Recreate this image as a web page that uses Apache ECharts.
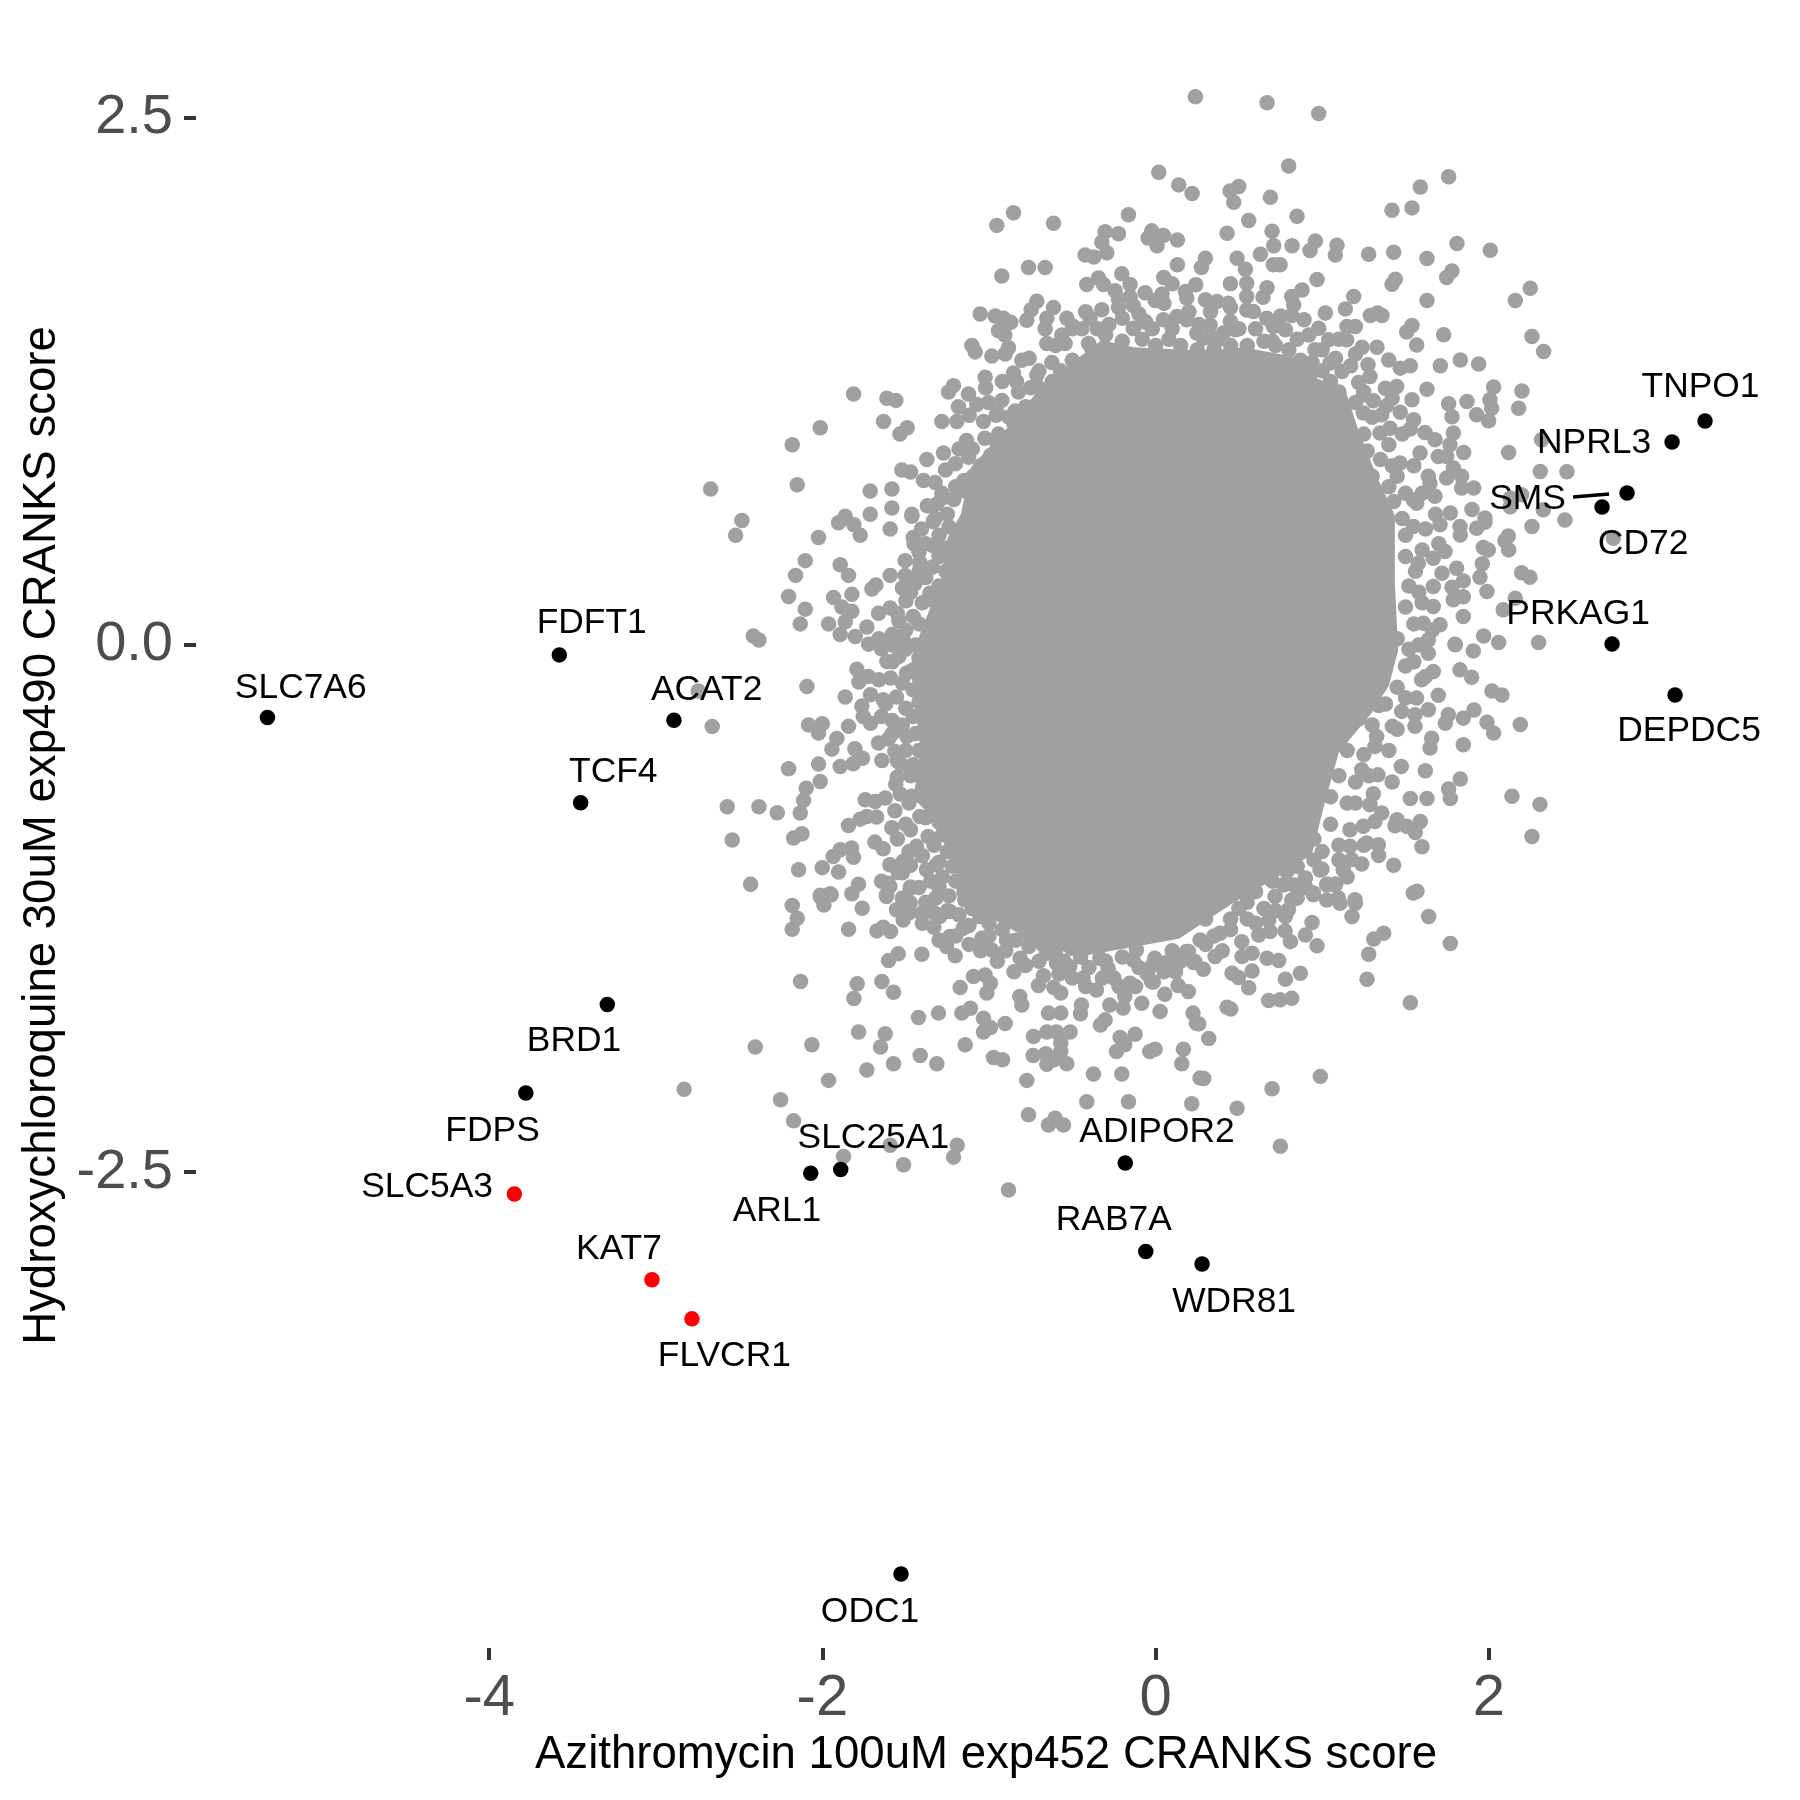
<!DOCTYPE html>
<html><head><meta charset="utf-8">
<script src="https://cdn.jsdelivr.net/npm/echarts@6/dist/echarts.min.js"></script>
<style>html,body{margin:0;padding:0;background:#fff}#c{width:1800px;height:1800px}</style></head>
<body><div id="c"></div>
<script>
const xTicks = [-4, -2, 0, 2];
const yTicks = [-2.5, 0, 2.5];
const xTitle = 'Azithromycin 100uM exp452 CRANKS score';
const yTitle = 'Hydroxychloroquine 30uM exp490 CRANKS score';

const geneNames = ['TNPO1','NPRL3','SMS','CD72','PRKAG1','DEPDC5','FDFT1','ACAT2','TCF4','SLC7A6','BRD1','FDPS','SLC25A1','ARL1','ADIPOR2','RAB7A','WDR81','ODC1','SLC5A3','KAT7','FLVCR1'];
const geneX = [3.298,3.1,2.83,2.68,2.74,3.118,-3.579,-2.891,-3.451,-5.331,-3.291,-3.78,-1.89,-2.07,-0.182,-0.059,0.279,-1.528,-3.849,-3.023,-2.783];
const geneY = [1.062,0.963,0.721,0.654,0.005,-0.237,-0.047,-0.357,-0.748,-0.344,-1.705,-2.125,-2.488,-2.505,-2.457,-2.877,-2.936,-4.406,-2.604,-3.011,-3.196];
const redGenes = ['SLC5A3','KAT7','FLVCR1'];
const labelOffsets = {TNPO1:[-4.5,-33.5],NPRL3:[-78,1.2],SMS:[-99.5,6.2],CD72:[41,37.5],PRKAG1:[-34,-29.8],DEPDC5:[14,36.5],FDFT1:[32.4,-31.5],ACAT2:[32.7,-30.5],TCF4:[32.6,-30.9],SLC7A6:[33.3,-29.5],BRD1:[-33.3,37],FDPS:[-33.3,38],SLC5A3:[-87.3,-6.5],KAT7:[-33,-30.5],FLVCR1:[32.4,37],SLC25A1:[32.6,-31.2],ARL1:[-33.7,38.2],ADIPOR2:[31.7,-30.5],RAB7A:[-32,-31.2],WDR81:[32,38],ODC1:[-31,38]};
const smsSegment = [[2.506,0.702],[2.722,0.716]];

// outline of the solid, fully overplotted core of the cloud
const coreOutline = [[-0.315,1.415],[-0.655,1.21],[-0.875,1.0],[-1.075,0.83],[-1.135,0.61],[-1.215,0.498],[-1.255,0.293],[-1.375,0.056],[-1.435,-0.102],[-1.375,-0.497],[-1.415,-0.718],[-1.295,-0.813],[-1.135,-1.13],[-1.035,-1.241],[-0.675,-1.399],[-0.435,-1.446],[0.125,-1.367],[0.427,-1.209],[0.767,-1.051],[0.907,-0.974],[0.987,-0.721],[1.067,-0.497],[1.267,-0.307],[1.367,-0.181],[1.42,-0.023],[1.4,0.293],[1.4,0.609],[1.3,0.78],[1.187,1.0],[1.107,1.194],[0.947,1.24],[0.847,1.336],[0.527,1.383],[0.267,1.368],[-0.133,1.383]];

const greyUpperLeft = [[-0.853,2.05],[-0.953,1.99],[-0.613,2.0],[-0.163,2.04],[-0.303,1.96],[-0.223,1.95],[-0.323,1.91],[-0.293,1.86],[-0.423,1.85],[-0.371,1.84],[-0.045,1.93],[-0.923,1.75],[-0.763,1.79],[-0.663,1.79],[-0.203,1.76],[-0.413,1.71],[-0.343,1.74],[-0.313,1.71],[-0.153,1.71],[-0.063,1.67],[-0.243,1.68],[-0.153,1.65],[-0.223,1.64],[-0.135,1.61],[-0.223,1.6],[-0.199,1.55],[-0.323,1.59],[-0.393,1.55],[-0.713,1.63],[-0.747,1.59],[-0.773,1.54],[-0.613,1.6],[-0.653,1.55],[-0.663,1.5],[-0.533,1.55],[-1.053,1.57],[-0.963,1.56],[-0.913,1.55],[-0.869,1.53],[-0.943,1.49],[-0.905,1.47],[-1.103,1.42],[-1.083,1.39],[-0.983,1.37],[-0.903,1.38],[-0.883,1.41],[-0.803,1.35],[-0.759,1.36],[-0.653,1.43],[-0.563,1.47],[-0.543,1.43],[-0.493,1.51],[-0.443,1.5],[-0.403,1.43],[-0.133,1.5],[-0.063,1.53],[-1.023,1.27],[-0.853,1.29],[-0.713,1.28],[-0.623,1.34],[-0.835,1.25],[-0.823,1.2],[-1.213,1.23],[-1.243,1.2],[-1.123,1.19],[-1.813,1.19],[-1.613,1.17],[-1.559,1.16],[-1.183,1.13],[-1.073,1.14],[-1.003,1.15],[-0.923,1.16],[-1.633,1.06],[-1.491,1.03],[-1.535,1.0],[-1.283,1.06],[-1.193,1.06],[-1.033,1.06],[-0.957,1.09],[-0.843,1.11],[-1.119,1.09],[-0.943,1.0],[-2.013,1.03],[-2.181,0.95],[-1.273,0.91],[-1.373,0.88],[-1.135,0.97],[-1.025,0.98],[-1.123,0.89],[-1.201,0.86],[-1.261,0.83],[-1.523,0.83],[-1.471,0.82],[-1.393,0.78],[-1.323,0.77],[-1.095,0.8],[-2.151,0.76],[-2.671,0.74],[-1.713,0.73],[-1.583,0.74],[-1.143,0.73],[-1.283,0.72],[-1.211,0.69],[-1.311,0.67],[-1.583,0.65],[-1.713,0.62],[-1.463,0.62],[-1.323,0.6]];

const greyLeft = [[-2.483,0.59],[-2.521,0.52],[-1.863,0.61],[-1.903,0.58],[-1.811,0.57],[-1.773,0.52],[-2.023,0.51],[-1.593,0.55],[-1.463,0.61],[-1.455,0.51],[-1.335,0.585],[-1.405,0.55],[-1.335,0.47],[-1.265,0.46],[-2.103,0.4],[-2.161,0.33],[-1.893,0.38],[-1.843,0.33],[-1.593,0.33],[-1.503,0.4],[-1.503,0.33],[-1.415,0.39],[-1.339,0.37],[-1.679,0.285],[-1.703,0.265],[-2.203,0.23],[-1.933,0.225],[-1.823,0.24],[-2.103,0.17],[-1.883,0.18],[-1.823,0.16],[-1.663,0.15],[-1.593,0.175],[-1.499,0.21],[-1.445,0.29],[-1.355,0.245],[-1.455,0.135],[-2.133,0.1],[-1.963,0.1],[-1.863,0.11],[-1.541,0.115],[-1.733,0.085],[-1.893,0.05],[-1.803,0.04],[-1.581,0.05],[-1.661,0.03],[-1.723,0.004],[-1.513,0.02],[-1.645,-0.018],[-2.415,0.043],[-2.381,0.024],[-1.613,-0.078],[-1.541,-0.055],[-1.495,-0.134],[-1.793,-0.115],[-1.725,-0.15],[-1.781,-0.176],[-1.661,-0.165],[-1.591,-0.157],[-2.093,-0.197],[-1.863,-0.247],[-1.455,-0.213],[-1.711,-0.236],[-1.555,-0.247],[-1.635,-0.26],[-1.763,-0.29],[-1.755,-0.339],[-1.711,-0.371],[-1.645,-0.339],[-1.581,-0.358],[-1.455,-0.339],[-2.661,-0.387],[-2.083,-0.379],[-2.001,-0.374],[-2.023,-0.418],[-1.843,-0.386],[-1.913,-0.443],[-1.943,-0.494],[-1.663,-0.465],[-1.603,-0.446],[-1.493,-0.434],[-1.565,-0.505],[-1.805,-0.492],[-1.759,-0.537],[-1.815,-0.563],[-1.893,-0.576],[-2.023,-0.565],[-1.643,-0.548],[-2.203,-0.587],[-2.013,-0.647],[-1.525,-0.568],[-1.455,-0.568],[-1.551,-0.627],[-1.395,-0.6],[-2.097,-0.679],[-2.113,-0.737],[-1.533,-0.707],[-1.465,-0.718],[-1.743,-0.734],[-1.683,-0.742],[-1.623,-0.726],[-2.571,-0.767],[-2.381,-0.767],[-2.271,-0.796],[-2.133,-0.797],[-1.565,-0.786],[-1.675,-0.816],[-1.733,-0.813],[-1.773,-0.826],[-1.843,-0.856],[-1.415,-0.813],[-1.583,-0.867],[-1.471,-0.876],[-2.123,-0.895],[-2.173,-0.916],[-2.541,-0.925],[-1.685,-0.935],[-1.635,-0.966],[-1.435,-0.955],[-1.365,-0.908],[-1.825,-0.963],[-1.893,-0.971],[-1.935,-1.003],[-1.813,-1.007],[-2.143,-1.066],[-2.001,-1.056],[-1.903,-1.077],[-1.595,-1.042],[-1.515,-1.026],[-1.471,-1.045],[-1.545,-1.079],[-2.431,-1.135],[-1.783,-1.135],[-1.645,-1.121],[-1.375,-1.066],[-1.315,-1.042],[-1.471,-1.148],[-1.595,-1.145],[-1.953,-1.18],[-2.013,-1.187],[-1.823,-1.18],[-1.615,-1.184],[-2.745,-0.218],[-2.83,-2.107]];

const greyLower = [[-1.991,-1.233],[-2.011,-1.196],[-1.947,-1.185],[-2.181,-1.236],[-2.151,-1.296],[-2.181,-1.348],[-1.761,-1.249],[-1.843,-1.348],[-1.605,-1.13],[-1.615,-1.193],[-1.555,-1.256],[-1.473,-1.154],[-1.473,-1.222],[-1.405,-1.272],[-1.673,-1.356],[-1.591,-1.359],[-1.635,-1.339],[-1.515,-1.304],[-1.331,-1.339],[-1.295,-1.288],[-1.235,-1.264],[-1.145,-1.209],[-1.155,-1.343],[-1.055,-1.288],[-1.235,-1.383],[-1.255,-1.43],[-1.203,-1.474],[-1.043,-1.391],[-0.985,-1.446],[-0.813,-1.486],[-0.895,-1.399],[-0.775,-1.367],[-0.675,-1.422],[-1.545,-1.465],[-1.603,-1.497],[-1.403,-1.467],[-2.131,-1.596],[-1.791,-1.607],[-1.811,-1.677],[-1.643,-1.596],[-1.573,-1.647],[-1.173,-1.625],[-1.093,-1.572],[-1.023,-1.565],[-0.991,-1.604],[-1.013,-1.651],[-1.423,-1.767],[-1.303,-1.746],[-1.163,-1.746],[-1.111,-1.723],[-1.033,-1.77],[-0.991,-1.814],[-1.033,-1.836],[-0.903,-1.795],[-0.815,-1.667],[-0.803,-1.707],[-0.673,-1.569],[-0.703,-1.615],[-0.611,-1.625],[-0.569,-1.651],[-0.643,-1.746],[-0.569,-1.746],[-0.445,-1.707],[-0.451,-1.749],[-0.303,-1.778],[-0.331,-1.802],[-0.733,-1.857],[-0.653,-1.836],[-0.595,-1.836],[-0.513,-1.836],[-0.569,-1.888],[-0.569,-1.928],[-0.735,-1.947],[-0.659,-1.939],[-0.653,-1.988],[-0.533,-1.986],[-0.611,-1.967],[-1.783,-1.836],[-1.623,-1.844],[-1.651,-1.907],[-2.063,-1.896],[-2.403,-1.907],[-1.143,-1.896],[-1.413,-1.947],[-1.313,-1.986],[-1.573,-1.986],[-1.733,-2.016],[-1.963,-2.065],[-0.973,-1.956],[-0.919,-1.967],[-0.773,-2.065],[-0.373,-2.035],[-0.203,-2.035],[-0.213,-1.862],[-0.185,-1.896],[-0.235,-1.928],[-0.123,-1.846],[-0.035,-1.928],[-0.003,-1.917],[0.167,-1.917],[0.157,-1.986],[0.267,-2.054],[-2.251,-2.157],[-0.413,-2.166],[-0.163,-2.166],[0.217,-2.176],[-0.763,-2.228],[-0.643,-2.277],[-0.603,-2.244],[-0.553,-2.277],[-2.173,-2.257],[-1.873,-2.426],[-1.593,-2.373],[-1.513,-2.465],[-1.191,-2.373],[-1.213,-2.429],[-0.883,-2.585],[-0.285,-1.536],[-0.195,-1.722],[-0.083,-1.699],[0.027,-1.738],[0.055,-1.656],[-0.025,-1.596],[-0.155,-1.604],[-0.275,-1.707],[-0.355,-1.636],[-0.435,-1.58],[-0.185,-1.667],[0.135,-1.615],[0.197,-1.644],[0.225,-1.746],[0.245,-1.794],[-0.515,-1.525],[-0.595,-1.509],[-0.655,-1.462],[-0.335,-1.486],[-0.135,-1.493],[-0.005,-1.486],[0.065,-1.506],[0.185,-1.454],[0.235,-1.501],[-0.115,-1.446],[-0.505,-1.438],
[1.639,-1.288],[1.769,-1.416],[1.199,-1.225],[1.179,-1.288],[1.107,-1.225],[1.027,-1.209],[1.077,-1.138],[1.027,-1.138],[1.127,-1.067],[0.987,-1.067],[0.947,-1.185],[0.897,-1.106],[0.827,-1.138],[0.767,-1.138],[0.787,-1.075],[0.717,-1.193],[0.817,-1.209],[0.797,-1.256],[0.779,-1.288],[0.679,-1.304],[0.939,-1.316],[0.777,-1.356],[0.809,-1.407],[0.899,-1.376],[0.969,-1.427],[0.687,-1.359],[0.619,-1.376],[1.369,-1.367],[1.309,-1.395],[1.279,-1.467],[1.269,-1.585],[1.529,-1.697],[0.869,-1.557],[0.779,-1.585],[0.579,-1.462],[0.519,-1.478],[0.669,-1.486],[0.739,-1.497],[0.579,-1.546],[0.459,-1.557],[0.497,-1.577],[0.559,-1.626],[0.679,-1.686],[0.747,-1.683],[0.817,-1.675],[0.429,-1.718],[0.451,-1.727],[0.259,-1.797],[0.319,-1.866],[0.289,-2.056],[0.699,-2.105],[0.989,-2.046],[0.489,-2.197],[0.749,-2.377],[0.387,-1.367],[0.267,-1.399],[0.197,-1.454],[0.227,-1.506],[0.287,-1.538],[0.357,-1.478],[0.517,-1.407],[0.067,-1.509],[-0.013,-1.599]];

const greyUpperRight = [[0.239,2.6],[0.669,2.572],[0.979,2.521],[0.799,2.272],[0.019,2.242],[0.139,2.182],[0.219,2.141],[0.499,2.174],[0.447,2.153],[0.469,2.1],[0.689,2.123],[0.559,2.013],[0.849,2.033],[0.429,1.953],[0.699,1.962],[-0.023,1.964],[0.047,1.942],[0.009,1.893],[0.131,1.921],[0.709,1.893],[0.819,1.893],[0.959,1.916],[0.927,1.871],[1.089,1.896],[1.079,1.849],[0.629,1.853],[1.279,1.853],[1.429,1.863],[1.629,1.833],[1.809,1.904],[2.009,1.872],[1.419,2.062],[1.539,2.073],[1.589,2.172],[1.759,2.221],[0.299,1.834],[0.275,1.79],[0.131,1.803],[0.489,1.834],[0.539,1.782],[0.707,1.803],[0.747,1.803],[1.779,1.774],[1.747,1.743],[0.969,1.733],[1.439,1.735],[1.419,1.711],[0.049,1.743],[0.099,1.713],[0.449,1.713],[0.547,1.716],[0.669,1.694],[0.645,1.649],[0.879,1.684],[0.817,1.653],[1.189,1.653],[1.629,1.634],[2.159,1.634],[2.249,1.692],[0.039,1.665],[-0.003,1.634],[0.179,1.676],[0.241,1.708],[0.187,1.645],[0.299,1.637],[0.369,1.629],[0.437,1.621],[0.547,1.653],[0.547,1.589],[0.829,1.613],[1.139,1.594],[1.019,1.574],[1.289,1.563],[1.359,1.563],[1.333,1.574],[0.817,1.563],[0.891,1.542],[0.979,1.502],[1.149,1.51],[1.199,1.51],[1.539,1.515],[1.507,1.484],[1.729,1.471],[2.259,1.463],[2.329,1.392],[0.449,1.534],[0.479,1.495],[0.347,1.455],[0.407,1.479],[0.287,1.455],[-0.061,1.534],[-0.133,1.502],[0.129,1.558],[0.187,1.542],[0.047,1.542],[0.327,1.518],[0.247,1.479],[0.587,1.581],[0.667,1.55],[0.707,1.51],[0.779,1.495],[1.147,1.447],[1.239,1.412],[1.329,1.412],[1.039,1.447],[0.957,1.4],[0.939,1.34],[1.047,1.337],[1.171,1.324],[1.119,1.297],[1.275,1.329],[1.287,1.273],[1.219,1.245],[1.399,1.352],[1.469,1.313],[1.529,1.324],[1.567,1.423],[1.709,1.324],[1.829,1.352],[1.939,1.333],[1.379,1.218],[1.447,1.226],[1.629,1.213],[2.029,1.223],[2.199,1.205],[2.179,1.123],[1.539,1.163],[1.759,1.144],[1.869,1.155],[2.007,1.163],[2.017,1.123],[1.779,1.082],[1.927,1.092],[1.999,1.063],[1.247,1.186],[1.307,1.158],[1.387,1.134],[1.357,1.092],[1.469,1.104],[1.549,1.068],[1.529,1.024],[1.247,1.1],[1.127,1.092],[1.407,1.028],[1.617,1.008],[1.677,0.973],[1.787,1.005],[1.767,0.95],[1.849,0.913],[2.119,0.913],[1.697,0.894],[1.747,0.894],[2.309,0.823],[1.787,0.839],[1.747,0.792],[1.837,0.8],[1.837,0.744],[1.909,0.744],[1.899,0.643],[1.769,0.626],[1.677,0.705],[1.587,0.91],[1.637,0.8],[1.547,0.689],[1.347,1.005],[1.467,0.863],[1.977,0.602],[2.317,0.973]];

const greyRight = [[2.469,0.822],[2.129,0.696],[2.197,0.712],[2.327,0.641],[2.129,0.656],[2.457,0.593],[2.259,0.562],[1.977,0.582],[1.927,0.554],[1.827,0.562],[2.117,0.517],[2.097,0.494],[2.119,0.451],[1.967,0.462],[1.997,0.451],[1.961,0.385],[1.947,0.321],[1.807,0.364],[1.847,0.304],[2.197,0.343],[2.247,0.321],[1.989,0.254],[2.159,0.222],[2.087,0.167],[1.847,0.229],[1.847,0.135],[2.747,0.506],[1.969,0.043],[2.059,0.012],[2.299,0.012],[1.799,0.001],[1.907,-0.028],[1.827,-0.118],[1.897,-0.153],[2.019,-0.218],[2.079,-0.237],[1.911,-0.308],[1.847,-0.347],[1.989,-0.366],[2.029,-0.418],[2.189,-0.377],[1.847,-0.473],
[1.707,0.57],[1.829,0.522],[1.719,0.34],[1.779,0.274],[1.667,0.277],[1.787,0.214],[1.707,0.096],[1.667,0.182],[1.737,0.443],[1.667,0.411],[1.547,0.562],[1.567,0.672],[1.647,0.767],[1.577,0.388],[1.607,0.103],[1.637,0.024],[1.637,-0.039],[1.667,-0.126],[1.797,0.004],[1.597,-0.165],[1.567,-0.252],[1.697,-0.239],[1.637,-0.307],[1.477,-0.315],[1.339,-0.287],[1.557,-0.331],[1.557,-0.386],[1.757,-0.331],[1.739,-0.371],[1.421,-0.386],[1.327,-0.434],[1.657,-0.442],[1.647,-0.489],[1.317,-0.481],[1.475,-0.576],[1.619,-0.597],[1.335,-0.616],[1.237,-0.592],[1.829,-0.636],[1.759,-0.683],[1.769,-0.728],[1.529,-0.728],[1.629,-0.728],[2.139,-0.717],[2.307,-0.756],[2.259,-0.908],[1.307,-0.706],[1.287,-0.758],[1.357,-0.797],[1.317,-0.837],[1.449,-0.829],[1.437,-0.857],[1.507,-0.86],[1.559,-0.889],[1.589,-0.837],[1.599,-0.957],[1.167,-0.876],[1.247,-0.86],[1.167,-0.955],[1.267,-0.939],[1.337,-0.947],[1.339,-0.998],[1.177,-1.018],[1.237,-1.039],[1.429,-1.045],[1.127,-1.066],[0.999,-1.063],[1.029,-1.134],[1.081,-1.134],[0.899,-1.105],[0.947,-1.176],[1.097,-1.2],[1.569,-1.168],[1.547,-1.176],[1.197,-1.208]];

const greyBandInner = [[-1.3,0.52],[-1.24,0.56],[-1.2,0.42],[-1.3,0.42],[-1.26,0.35],[-1.42,0.44],[-1.38,0.32],[-1.3,0.28],[-1.4,0.2],[-1.32,0.2],[-1.28,0.12],[-1.42,0.1],[-1.36,0.06],[-1.5,0.07],[-1.44,0.0],[-1.5,-0.02],[-1.42,-0.06],[-1.46,-0.12],[-1.38,-0.2],[-1.42,-0.27],[-1.5,-0.3],[-1.38,-0.34],[-1.44,-0.42],[-1.36,-0.46],[-1.42,-0.5],[-1.34,-0.55],[-1.36,-0.66],[-1.4,-0.72],[-1.33,-0.74],[-1.38,-0.82],[-1.3,-0.84],[-1.28,-0.9],[-1.33,-0.95],[-1.25,-0.98],[-1.3,-1.03],[-1.4,-1.0],[-1.22,-1.05],[-1.28,-1.1],[-1.2,-1.12],[-1.35,-1.12],[-1.42,-1.15],[-1.15,-1.17],[-1.24,-1.19],[-1.32,-1.2],[-1.38,-1.22],[-1.25,-1.26],[-1.33,-1.27],[-1.1,-1.25],[-1.18,-1.28],[-1.12,-1.33],[-1.0,-1.32],[-0.92,-1.35],[-1.0,-1.38],[-0.84,-1.4],[-0.76,-1.43],[-0.9,-1.45],[-0.6,-1.45],[-0.55,-1.5],[-0.45,-1.48],[-0.4,-1.53],[-0.3,-1.5],[-0.25,-1.58],[-0.2,-1.48],[-0.1,-1.53],[-0.05,-1.56],[0.05,-1.55],[0.1,-1.45],[0.15,-1.5],[0.3,-1.42],[0.35,-1.38],[0.45,-1.35],[0.55,-1.3],[0.6,-1.32],[0.65,-1.25],[0.72,-1.26],[0.5,-1.25],[0.6,-1.17],[0.7,-1.12],[0.85,-1.05],[0.95,-1.02],[0.9,-1.15],[1.0,-0.98],[1.1,-0.95],[1.05,-0.85],[1.15,-0.75],[1.2,-0.65],[1.1,-0.62],[1.25,-0.52],[1.15,-0.5],[1.3,-0.38],[1.22,-0.35],[1.38,-0.28],[1.35,-0.18],[1.45,-0.2],[1.5,-0.1],[1.52,-0.02],[1.45,0.03],[1.55,0.1],[1.5,0.18],[1.6,0.2],[1.52,0.28],[1.56,0.35],[1.6,0.45],[1.5,0.42],[1.5,0.52],[1.48,0.6],[1.43,0.68],[1.5,0.72],[1.4,0.75],[1.42,0.85],[1.35,0.88],[1.3,0.8],[1.27,0.92],[1.25,1.0],[1.15,1.0],[1.2,1.15],[1.1,1.2],[1.05,1.25],[1.0,1.18],[0.95,1.3],[0.87,1.35],[0.8,1.4],[0.72,1.42],[0.65,1.44],[0.55,1.42],[0.6,1.36],[0.45,1.42],[0.35,1.4],[0.25,1.4],[0.15,1.42],[0.08,1.45],[0.0,1.42],[-0.08,1.45],[-0.2,1.44],[-0.3,1.47],[-0.38,1.4],[-0.5,1.35],[-0.57,1.3],[-0.62,1.25],[-0.7,1.22],[-0.78,1.13],[-0.85,1.05],[-0.95,0.95],[-0.99,0.9],[-1.05,0.85],[-1.15,0.78],[-1.2,0.75],[-1.05,0.7],[-1.25,0.62]];

const greyBandOuter = [[-0.6,1.42],[-0.5,1.5],[-0.42,1.58],[-0.35,1.5],[-0.28,1.52],[-0.1,1.57],[-0.02,1.5],[0.05,1.62],[0.1,1.5],[0.2,1.58],[0.26,1.52],[0.33,1.58],[0.38,1.45],[0.45,1.6],[0.5,1.5],[0.6,1.5],[0.7,1.44],[0.75,1.56],[0.85,1.45],[0.92,1.47],[1.0,1.4],[1.08,1.36],[1.1,1.45],[1.2,1.38],[1.0,1.3],[1.25,1.2],[1.3,1.08],[1.42,1.17],[1.48,1.0],[1.4,0.95],[1.55,0.85],[1.45,0.8],[1.6,0.72],[1.68,0.62],[1.62,0.55],[1.7,0.48],[1.58,0.25],[1.66,0.07],[1.58,0.0],[1.55,-0.08],[1.62,-0.15],[1.5,-0.25],[1.45,-0.4],[1.4,-0.5],[1.28,-0.62],[1.42,-0.65],[1.2,-0.75],[1.25,-0.95],[1.1,-1.02],[1.15,-1.1],[1.05,-0.72],[0.95,-0.92],[0.85,-1.2],[0.7,-1.04],[0.62,-1.08],[0.55,-1.22],[0.45,-1.3],[0.4,-1.45],[0.3,-1.3],[0.12,-1.55],[-0.02,-1.52],[-0.12,-1.62],[-0.22,-1.62],[-0.32,-1.58],[-0.42,-1.62],[-0.5,-1.58],[-0.58,-1.56],[-0.7,-1.5],[-0.78,-1.52],[-0.85,-1.55],[-0.95,-1.5],[-1.05,-1.45],[-1.12,-1.42],[-1.2,-1.38],[-1.3,-1.4],[-1.4,-1.32],[-1.48,-1.27],[-1.52,-1.2],[-1.3,-1.15],[-1.52,-1.08],[-1.48,-0.98],[-1.55,-0.92],[-1.5,-0.85],[-1.48,-0.75],[-1.56,-0.66],[-1.47,-0.62],[-1.55,-0.55],[-1.42,-0.6],[-1.5,-0.5],[-1.58,-0.42],[-1.52,-0.38],[-1.62,-0.28],[-1.52,-0.18],[-1.58,-0.08],[-1.58,0.0],[-1.55,0.15],[-1.47,0.25],[-1.52,0.27],[-1.42,0.35],[-1.45,0.48],[-1.38,0.48],[-1.27,0.7],[-1.37,0.66],[-1.18,0.93],[-1.1,0.93],[-1.0,0.88],[-0.88,1.08],[-0.72,1.12],[-0.7,1.3],[-0.75,1.22],[-0.92,1.25],[-1.02,1.22],[-0.95,1.1]];

const GREY = '#A0A0A0';
const DOT = 15.5;
const FONT = '"Liberation Sans", Arial, sans-serif';
const greyPoints = [...greyUpperLeft, ...greyLeft, ...greyLower, ...greyUpperRight, ...greyRight, ...greyBandInner, ...greyBandOuter];

const geneData = geneNames.map((n, i) => ({
  name: n,
  value: [geneX[i], geneY[i]],
  itemStyle: {color: redGenes.includes(n) ? '#FF0000' : '#000000', opacity: 1}
}));

const chart = echarts.init(document.getElementById('c'), null, {renderer: 'canvas'});
chart.setOption({
  animation: false,
  backgroundColor: '#ffffff',
  grid: {left: 195.98, top: 22.96, width: 1580.03, height: 1625.04, containLabel: false, outerBoundsMode: 'none'},
  xAxis: {
    type: 'value', min: -5.76, max: 3.724, scale: true,
    name: xTitle, nameLocation: 'middle', nameGap: 84, nameMoveOverlap: false,
    nameTextStyle: {fontSize: 45.6, color: '#000', fontFamily: FONT},
    splitLine: {show: false}, axisLine: {show: false, onZero: false},
    axisTick: {show: true, length: 12, inside: false, customValues: xTicks, lineStyle: {color: '#333333', width: 4}},
    axisLabel: {show: true, customValues: xTicks, margin: 22, fontSize: 58, color: '#4D4D4D', fontFamily: FONT, formatter: v => String(v)}
  },
  yAxis: {
    type: 'value', min: -4.757, max: 2.95, scale: true,
    name: yTitle, nameLocation: 'middle', nameGap: 131, nameMoveOverlap: false,
    nameTextStyle: {fontSize: 45.6, color: '#000', fontFamily: FONT},
    splitLine: {show: false}, axisLine: {show: false, onZero: false},
    axisTick: {show: true, length: 12, customValues: yTicks, lineStyle: {color: '#333333', width: 4}},
    axisLabel: {show: true, customValues: yTicks, margin: 23, fontSize: 56, color: '#4D4D4D', fontFamily: FONT, padding: [14, 0, 0, 0], formatter: v => v.toFixed(1)}
  },
  series: [
    {
      type: 'custom', name: 'core', silent: true, clip: false, z: 2,
      data: coreOutline,
      encode: {x: 0, y: 1},
      renderItem(params, api) {
        if (params.dataIndex !== 0) return null;
        return {type: 'polygon', shape: {points: coreOutline.map(p => api.coord(p))}, style: {fill: GREY, stroke: GREY, lineWidth: 12, lineJoin: 'round'}};
      }
    },
    {
      type: 'scatter', name: 'genes', data: greyPoints, symbol: 'circle', symbolSize: DOT, z: 3,
      itemStyle: {color: GREY, opacity: 1, borderWidth: 0}, silent: true
    },
    {
      type: 'line', name: 'SMS segment', data: smsSegment, showSymbol: false, symbol: 'none', z: 4, silent: true,
      lineStyle: {color: '#000', width: 3.6, cap: 'butt'}
    },
    {
      type: 'scatter', name: 'hits', data: geneData, symbol: 'circle', symbolSize: DOT, z: 5, silent: true,
      label: {show: true, position: 'inside', formatter: '{b}', fontSize: 35.4, color: '#000', fontFamily: FONT, align: 'center', verticalAlign: 'middle', textBorderWidth: 0, opacity: 1},
      labelLayout: params => {
        const off = labelOffsets[geneNames[params.dataIndex]];
        return {dx: off[0], dy: off[1], hideOverlap: false};
      }
    }
  ]
});
</script></body></html>
